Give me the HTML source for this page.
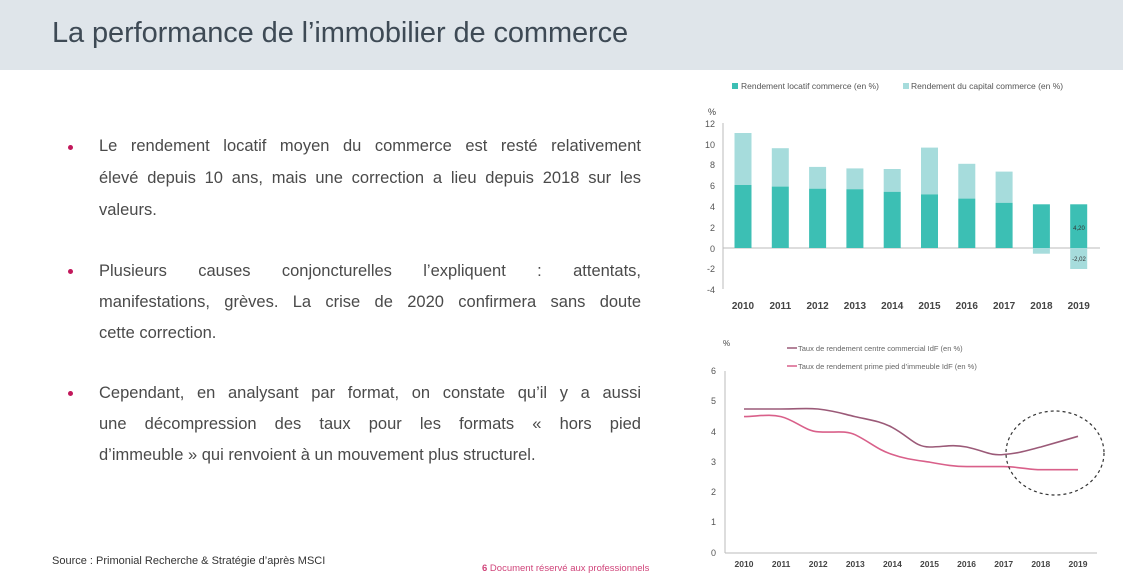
<!DOCTYPE html>
<html><head><meta charset="utf-8"><style>
html,body{margin:0;padding:0;background:#fff;width:1123px;height:586px;overflow:hidden;font-family:"Liberation Sans",sans-serif}
.hdr{position:absolute;left:0;top:0;width:1123px;height:70px;background:#dfe5ea}
.title{position:absolute;left:52px;top:17px;font-size:29px;color:#3e4a55;letter-spacing:-0.1px}
.l{position:absolute;left:99px;width:542px;font-size:16.5px;line-height:20px;color:#4a4a4a;white-space:nowrap}
.j{text-align:justify;text-align-last:justify;white-space:normal}
.b{position:absolute;left:68px;width:5px;height:5px;border-radius:50%;background:#c2185b}
.src{position:absolute;left:52px;top:555px;font-size:11px;color:#333}
.ft{position:absolute;left:482px;top:563px;font-size:9.5px;color:#d0447a}
svg{position:absolute;left:0;top:0}
</style></head><body>
<div class="hdr"></div>
<div class="title">La performance de l’immobilier de commerce</div>
<div class="b" style="top:145px"></div>
<div class="l j" style="top:136px">Le rendement locatif moyen du commerce est resté relativement</div>
<div class="l j" style="top:168px">élevé depuis 10 ans, mais une correction a lieu depuis 2018 sur les</div>
<div class="l" style="top:200px">valeurs.</div>
<div class="b" style="top:269px"></div>
<div class="l j" style="top:261px">Plusieurs causes conjoncturelles l’expliquent : attentats,</div>
<div class="l j" style="top:292px">manifestations, grèves. La crise de 2020 confirmera sans doute</div>
<div class="l" style="top:323px">cette correction.</div>
<div class="b" style="top:391px"></div>
<div class="l j" style="top:383px">Cependant, en analysant par format, on constate qu’il y a aussi</div>
<div class="l j" style="top:414px">une décompression des taux pour les formats « hors pied</div>
<div class="l" style="top:445px">d’immeuble » qui renvoient à un mouvement plus structurel.</div>
<div class="src">Source : Primonial Recherche &amp; Stratégie d’après MSCI</div>
<div class="ft"><b>6</b> Document réservé aux professionnels</div>
<svg width="1123" height="586" font-family="Liberation Sans, sans-serif">
<rect x="732" y="83" width="6" height="6" fill="#3cbfb4"/>
<text x="741" y="89" font-size="8.5" fill="#555">Rendement locatif commerce (en %)</text>
<rect x="903" y="83" width="6" height="6" fill="#a6dcdc"/>
<text x="911" y="89" font-size="8.5" fill="#555">Rendement du capital commerce (en %)</text>
<text x="708" y="115" font-size="9" fill="#444">%</text>
<g font-size="9" fill="#555" text-anchor="end">
<text x="715" y="127">12</text><text x="715" y="148">10</text><text x="715" y="168">8</text><text x="715" y="189">6</text><text x="715" y="210">4</text><text x="715" y="231">2</text><text x="715" y="252">0</text><text x="715" y="272">-2</text><text x="715" y="293">-4</text>
</g>
<line x1="723" y1="123" x2="723" y2="289" stroke="#bbb"/>
<line x1="723" y1="248" x2="1100" y2="248" stroke="#bbb"/>
<g fill="#a6dcdc">
<rect x="734.5" y="133" width="17" height="52"/>
<rect x="771.8" y="148.2" width="17" height="38.4"/>
<rect x="809.1" y="166.9" width="17" height="21.8"/>
<rect x="846.4" y="168.4" width="17" height="20.8"/>
<rect x="883.7" y="169" width="17" height="22.8"/>
<rect x="921" y="147.6" width="17" height="46.8"/>
<rect x="958.3" y="163.8" width="17" height="34.8"/>
<rect x="995.6" y="171.6" width="17" height="31.2"/>
<rect x="1032.9" y="248" width="17" height="5.7"/>
<rect x="1070.2" y="248" width="17" height="21"/>
</g>
<g fill="#3cbfb4">
<rect x="734.5" y="185" width="17" height="63"/>
<rect x="771.8" y="186.6" width="17" height="61.4"/>
<rect x="809.1" y="188.7" width="17" height="59.3"/>
<rect x="846.4" y="189.2" width="17" height="58.8"/>
<rect x="883.7" y="191.8" width="17" height="56.2"/>
<rect x="921" y="194.4" width="17" height="53.6"/>
<rect x="958.3" y="198.6" width="17" height="49.4"/>
<rect x="995.6" y="202.8" width="17" height="45.2"/>
<rect x="1032.9" y="204.3" width="17" height="43.7"/>
<rect x="1070.2" y="204.3" width="17" height="43.7"/>
</g>
<text x="1079" y="230" font-size="6" fill="#333" text-anchor="middle">4,20</text>
<text x="1079" y="261" font-size="6" fill="#333" text-anchor="middle">-2,02</text>
<g font-size="10" font-weight="bold" fill="#444" text-anchor="middle">
<text x="743" y="309">2010</text><text x="780.3" y="309">2011</text><text x="817.6" y="309">2012</text><text x="854.9" y="309">2013</text><text x="892.2" y="309">2014</text><text x="929.5" y="309">2015</text><text x="966.8" y="309">2016</text><text x="1004.1" y="309">2017</text><text x="1041.4" y="309">2018</text><text x="1078.7" y="309">2019</text>
</g>
<text x="723" y="346" font-size="8" fill="#444">%</text>
<line x1="787" y1="348" x2="797" y2="348" stroke="#9b5a78" stroke-width="1.5"/>
<text x="798" y="351" font-size="7.5" fill="#666">Taux de rendement centre commercial IdF (en %)</text>
<line x1="787" y1="366" x2="797" y2="366" stroke="#d9608a" stroke-width="1.5"/>
<text x="798" y="369" font-size="7.5" fill="#666">Taux de rendement prime pied d’immeuble IdF (en %)</text>
<g font-size="9" fill="#555" text-anchor="end">
<text x="716" y="374">6</text><text x="716" y="404">5</text><text x="716" y="435">4</text><text x="716" y="465">3</text><text x="716" y="495">2</text><text x="716" y="525">1</text><text x="716" y="556">0</text>
</g>
<line x1="725" y1="371" x2="725" y2="553" stroke="#bbb"/>
<line x1="725" y1="553" x2="1097" y2="553" stroke="#bbb"/>
<path fill="none" stroke="#9b5a78" stroke-width="1.6" d="M744,409 L781,409 C800,409 805,408 818,409 C835,411 840,413 855,416.6 C870,420 880,421 892,427.3 C910,437 915,447 929.5,447 C945,447 950,444 966.6,447 C985,451 990,456 1003.7,454.5 C1020,453 1025,451 1040.8,447 C1055,443 1065,440 1078,436.3"/>
<path fill="none" stroke="#d9608a" stroke-width="1.6" d="M744,416.6 C760,416 770,414 781,416.6 C795,420 805,431 818.2,431.8 C835,433 845,430 855.3,434.8 C870,442 878,450 892.4,454.5 C905,459 915,460 929.5,462.1 C945,465 955,466.6 966.6,466.6 L1003.7,466.6 C1020,467 1030,469.7 1040.8,469.7 L1078,469.7"/>
<ellipse cx="1055" cy="453" rx="49" ry="42" fill="none" stroke="#333" stroke-width="1.2" stroke-dasharray="3,3"/>
<g font-size="8.5" font-weight="bold" fill="#444" text-anchor="middle">
<text x="744" y="567">2010</text><text x="781.1" y="567">2011</text><text x="818.2" y="567">2012</text><text x="855.3" y="567">2013</text><text x="892.4" y="567">2014</text><text x="929.5" y="567">2015</text><text x="966.6" y="567">2016</text><text x="1003.7" y="567">2017</text><text x="1040.8" y="567">2018</text><text x="1078" y="567">2019</text>
</g>
</svg>
</body></html>
